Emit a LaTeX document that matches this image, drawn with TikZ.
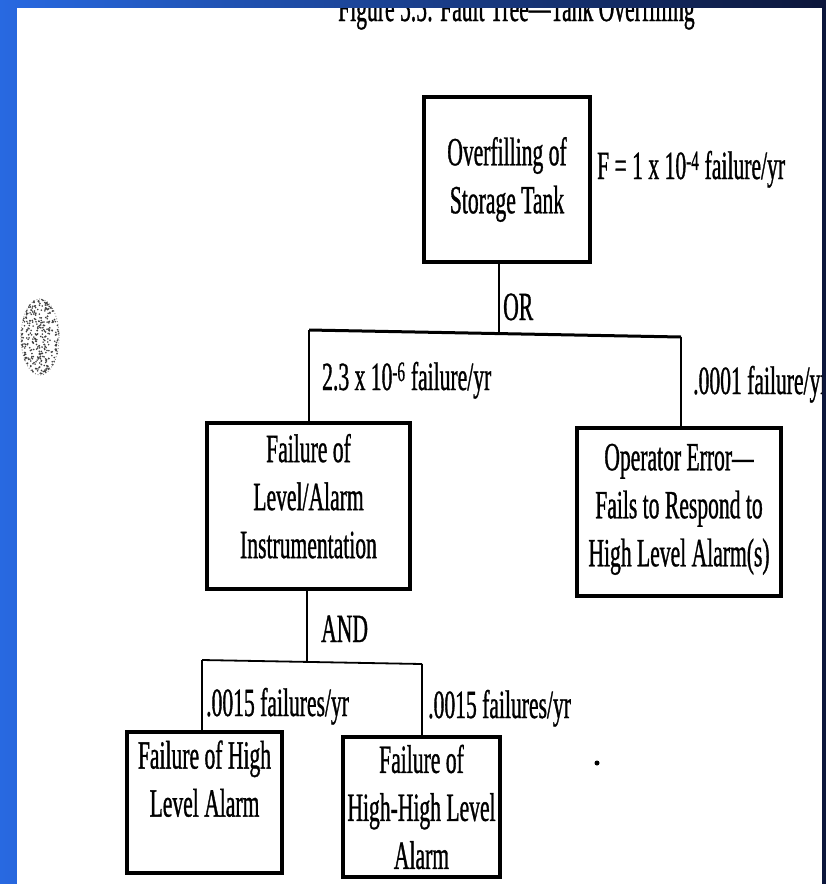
\documentclass[tikz,border=0pt]{standalone}
\usepackage{fontspec}
\setmainfont{Liberation Serif}[FakeStretch=0.54,FakeBold=0.8]
\usetikzlibrary{positioning}
\definecolor{slideblue}{RGB}{40,105,225}
\definecolor{slidenavy}{RGB}{12,22,58}

\begin{document}
\begin{tikzpicture}[x=1pt,y=-1pt,
	event/.style={draw,line width=3.2pt,inner sep=0pt,align=center,font=\fontsize{40}{48}\selectfont},
	wire/.style={line width=1.8pt},
	rate/.style={anchor=base west,inner sep=0pt,font=\fontsize{40}{48}\selectfont}]
	\useasboundingbox (0,0) rectangle (826,884);

	%Slide background
	\shade [left color=slideblue,right color=slidenavy] (0,0) rectangle (826,884);
	\fill [white] (17,8) rectangle (822,884);

	\begin{scope}
	\clip (17,8) rectangle (822,884);
	%Title, cut by the slide edge
	\node [rate] (title) at (338,21) {Figure 5.5: Fault Tree---Tank Overfilling};

	%Top event
	\node [event,minimum width=166pt,minimum height=165pt] (tank) at (507,179.5) {Overfilling of\\Storage Tank};
	\node [rate] (tankfreq) at (597,179) {F = 1 x 10\textsuperscript{-4} failure/yr};

	%Basic events
	\node [event,minimum width=203pt,minimum height=166pt] (instr) at (308.5,506) {Failure of\\Level/Alarm\\Instrumentation\rule[-20pt]{0pt}{0pt}};
	\node [event,minimum width=204pt,minimum height=168pt] (operator) at (679,512) {Operator Error---\\Fails to Respond to\\High Level Alarm(s)\rule[-14pt]{0pt}{0pt}};
	\node [event,minimum width=155pt,minimum height=141pt] (highalarm) at (204.5,802.5) {Failure of High\\Level Alarm\\\mbox{}};
	\node [event,minimum width=157pt,minimum height=140pt] (hhalarm) at (421.5,807) {Failure of\\High-High Level\\Alarm};

	%OR gate
	\coordinate (orgate) at (499,333);
	\coordinate (orleft) at (309,330);
	\coordinate (orright) at (681,337);
	\draw [wire] (tank.south -| orgate) -- (orgate);
	\draw [wire,line width=3pt] (orleft) -- (orright);
	\draw [wire] (orleft) -- (instr.north -| orleft);
	\draw [wire] (orright) -- (operator.north -| orright);
	\node [rate] (orlabel) at (503,320) {OR};
	\node [rate] (instrfreq) at (322,390) {2.3 x 10\textsuperscript{-6} failure/yr};
	\node [rate] (operfreq) at (693,394) {.0001 failure/yr};

	%AND gate
	\coordinate (andgate) at (307,662);
	\coordinate (andleft) at (202,660);
	\coordinate (andright) at (422,664);
	\draw [wire] (instr.south -| andgate) -- (andgate);
	\draw [wire] (andleft) -- (andright);
	\draw [wire] (andleft) -- (highalarm.north -| andleft);
	\draw [wire] (andright) -- (hhalarm.north -| andright);
	\node [rate] (andlabel) at (321,642) {AND};
	\node [rate] (highfreq) at (206,716) {.0015 failures/yr};
	\node [rate] (hhfreq) at (428,718) {.0015 failures/yr};

	%Specks of the scan
	\fill (597,763) circle [radius=2.5];
	\pgfmathsetseed{17}
	\foreach \i in {1,...,320}{
		\pgfmathsetmacro\ang{rnd*360}
		\pgfmathsetmacro\rad{sqrt(rnd)}
		\fill [black!75] ({40+19*\rad*cos(\ang)},{337+38*\rad*sin(\ang)}) circle [radius=0.9];
	}
	\draw [black!60,line width=0.8pt,dotted] (40,337) ellipse [x radius=19,y radius=38];
	\end{scope}
\end{tikzpicture}
\end{document}
